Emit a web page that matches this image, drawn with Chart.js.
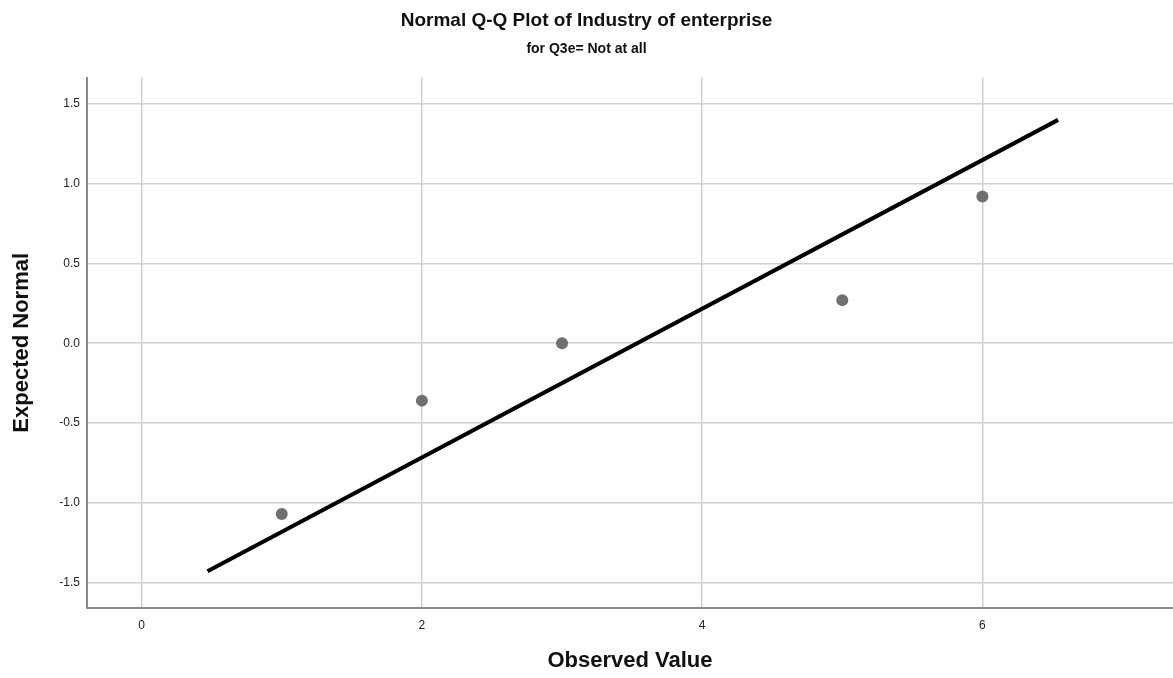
<!DOCTYPE html>
<html>
<head>
<meta charset="utf-8">
<script src="https://cdn.jsdelivr.net/npm/chart.js@4.4.0/dist/chart.umd.min.js"></script>
<style>
  html, body { margin: 0; padding: 0; background: #fff; }
  #wrap { width: 1173px; height: 678px; }
</style>
</head>
<body>
<div id="wrap"><canvas id="qq" width="1173" height="678"></canvas></div>
<script>
// observed values and their expected normal scores
var observed = [1, 2, 3, 5, 6];
var expected = [-1.07, -0.36, 0.0, 0.27, 0.92];

// reference line ends
var lineX = [0.47, 6.54];
var lineY = [-1.43, 1.40];

var xTicks = [0, 2, 4, 6];
var yTicks = [-1.5, -1.0, -0.5, 0.0, 0.5, 1.0, 1.5];

var points = observed.map(function (v, i) { return { x: v, y: expected[i] }; });
var linePts = lineX.map(function (v, i) { return { x: v, y: lineY[i] }; });

var font = "'Liberation Sans', Arial, sans-serif";

var ctx = document.getElementById('qq').getContext('2d');
var chart = new Chart(ctx, {
    type: 'scatter',
    data: {
        datasets: [{
            type: 'line',
            data: linePts,
            borderColor: '#000',
            borderWidth: 4,
            pointRadius: 0,
            fill: false,
            order: 1
        }, {
            data: points,
            backgroundColor: '#707070',
            borderWidth: 0,
            pointRadius: 6,
            order: 2
        }]
    },
    options: {
        responsive: false,
        animation: false,
        layout: { padding: 0, autoPadding: false },
        plugins: {
            legend: { display: false },
            tooltip: { enabled: false },
            title: {
                display: true,
                text: 'Normal Q-Q Plot of Industry of enterprise',
                color: '#111',
                font: { family: font, size: 19, weight: 'bold' },
                padding: { top: 9, bottom: 9 }
            },
            subtitle: {
                display: true,
                text: 'for Q3e= Not at all',
                color: '#111',
                font: { family: font, size: 14, weight: 'bold' },
                padding: { top: 0, bottom: 20 }
            }
        },
        scales: {
            x: {
                type: 'linear',
                min: -0.39,
                max: 7.36,
                afterBuildTicks: function (s) { s.ticks = xTicks.map(function (v) { return { value: v }; }); },
                afterFit: function (s) { s.height = 70; s.paddingRight = 0; s.paddingLeft = 0; },
                ticks: { color: '#222', font: { family: font, size: 12 }, padding: 10 },
                grid: { color: '#d0d0d0', lineWidth: 1.5, drawTicks: false },
                border: { color: '#8a8a8a', width: 2 },
                title: {
                    display: true,
                    text: 'Observed Value',
                    color: '#111',
                    font: { family: font, size: 22, weight: 'bold' },
                    padding: { top: 12 }
                }
            },
            y: {
                type: 'linear',
                min: -1.66,
                max: 1.665,
                afterBuildTicks: function (s) { s.ticks = yTicks.map(function (v) { return { value: v }; }); },
                afterFit: function (s) { s.width = 87; s.paddingTop = 0; s.paddingBottom = 0; },
                ticks: {
                    color: '#222',
                    font: { family: font, size: 12 },
                    padding: 7,
                    callback: function (v) { return v.toFixed(1); }
                },
                grid: { color: '#d0d0d0', lineWidth: 1.5, drawTicks: false },
                border: { color: '#8a8a8a', width: 2 },
                title: {
                    display: true,
                    text: 'Expected Normal',
                    color: '#111',
                    font: { family: font, size: 22, weight: 'bold' },
                    padding: { top: 9, bottom: 0 }
                }
            }
        }
    }
});
</script>
</body>
</html>
